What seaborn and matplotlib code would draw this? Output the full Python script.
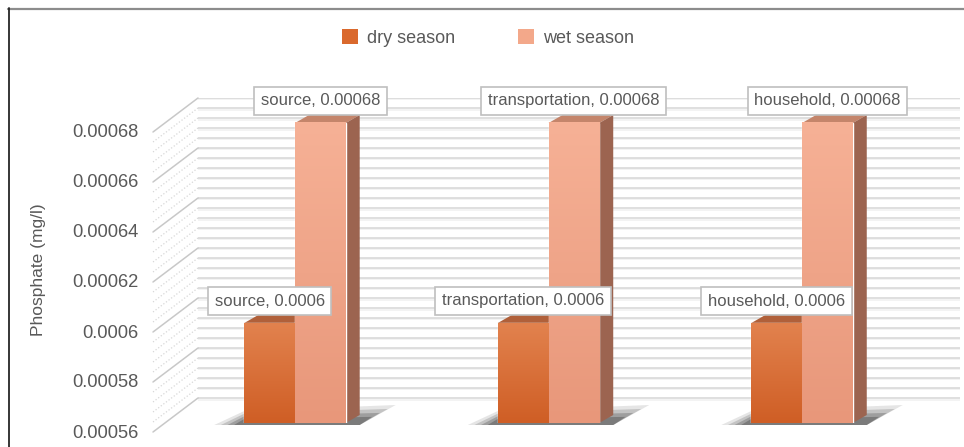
import numpy as np
import pandas as pd
import matplotlib
matplotlib.use("Agg")
import matplotlib.pyplot as plt
import seaborn as sns
from matplotlib.patches import Polygon, Patch
from matplotlib.lines import Line2D
from matplotlib.transforms import ScaledTranslation
from matplotlib.colors import LinearSegmentedColormap

# Data
sites = ["source", "transportation", "household"]
seasons = ["dry season", "wet season"]
dry_values = [0.0006, 0.0006, 0.0006]
wet_values = [0.00068, 0.00068, 0.00068]
y_ticks = [0.00056, 0.00058, 0.0006, 0.00062, 0.00064, 0.00066, 0.00068]
y_tick_labels = ["0.00056", "0.00058", "0.0006", "0.00062", "0.00064", "0.00066", "0.00068"]

df = pd.DataFrame({
    "site": sites * 2,
    "season": [seasons[0]] * len(sites) + [seasons[1]] * len(sites),
    "value": dry_values + wet_values,
})

# Style
sns.set_theme(style="white")
plt.rcParams["font.family"] = ["Liberation Sans", "DejaVu Sans"]
TEXT = "#595959"
DRY = "#da692d"
WET = "#f3a88a"
# gradients (bottom -> top) and 3D face colours
grad = {
    DRY: ("#cf5e25", "#e2824e"),
    WET: ("#e8977a", "#f6b196"),
}
top_face = {DRY: "#b0603a", WET: "#c4856b"}
side_face = {DRY: "#8f4a2a", WET: "#9c6450"}

W, H, DPI = 964, 447, 100
fig = plt.figure(figsize=(W / DPI, H / DPI), dpi=DPI)
ax_w, ax_h = 762, 325
ax = fig.add_axes([198 / W, (H - 423) / H, ax_w / W, ax_h / H])
ax.set_facecolor("none")
for s in ax.spines.values():
    s.set_visible(False)

xlim = (-0.3826, 2.623)
ylim = (0.00056, 0.00069)
px_x = (xlim[1] - xlim[0]) / ax_w
px_y = (ylim[1] - ylim[0]) / ax_h

sns.barplot(data=df, x="site", y="value", hue="season", palette=[DRY, WET],
            width=0.4, errorbar=None, saturation=1, legend=False, ax=ax, zorder=3)

# back wall gridlines (shifted back by the 3D depth)
wall_off = 25 * px_y
grid_vals = np.round(np.arange(0.00056, 0.000681, 0.000004), 7)
ax.hlines(grid_vals + wall_off - 1.5 * px_y, xlim[0], xlim[1], color="#f1f1f1", lw=1.2, zorder=0)
ax.hlines(grid_vals + wall_off, xlim[0], xlim[1], color="#d9d9d9", lw=1.2, zorder=0.5)

# left side wall (perspective diagonals)
for v in grid_vals:
    major = any(abs(v - t) < 1e-9 for t in y_ticks)
    ax.plot([xlim[0] - 45 * px_x, xlim[0]], [v - 9 * px_y, v + wall_off],
            color="#c8c8c8" if major else "#d8d8d8",
            lw=1.1 if major else 0.9,
            ls="-" if major else (0, (1, 1.6)),
            clip_on=False, zorder=0.5)

dx, dy = 14 * px_x, 8 * px_y
y0 = ylim[0]
for cont, color in zip(ax.containers, [DRY, WET]):
    for bar, site in zip(cont.patches, sites):
        x0 = bar.get_x()
        x1 = x0 + bar.get_width()
        top = bar.get_y() + bar.get_height()
        # vertical gradient on the front face
        cmap = LinearSegmentedColormap.from_list("g", list(grad[color]))
        ax.imshow(np.linspace(0, 1, 128).reshape(-1, 1), cmap=cmap, origin="lower",
                  extent=[x0, x1, y0, top], aspect="auto", zorder=3.2)
        # top face
        ax.add_patch(Polygon([(x0, top), (x0 + dx, top + dy), (x1 + dx, top + dy), (x1, top)],
                             closed=True, fc=top_face[color], ec="none", zorder=2.9))
        if color == WET:
            ax.add_patch(Polygon([(x1, y0), (x1 + dx, y0 + dy), (x1 + dx, top + dy), (x1, top)],
                                 closed=True, fc=side_face[color], ec="none", zorder=2.9))
            # soft shadow on the floor
            xl = x0 - bar.get_width()
            for k, a in enumerate([0.12, 0.18, 0.24, 0.3]):
                s = 1 - 0.22 * k
                ax.add_patch(Polygon([(xl - 30 * px_x * s, y0 - 2 * px_y),
                                      (xl, y0 + 12 * px_y * s),
                                      (x1 + dx + 36 * px_x * s, y0 + (dy + 10 * px_y) * s),
                                      (x1 + dx, y0 - 2 * px_y)],
                                     closed=True, fc="#2a2a2a", ec="none", alpha=a,
                                     clip_on=False, zorder=2.5))
        # data label
        ax.text((x0 + x1) / 2, top + 22 * px_y, f"{site}, {bar.get_height():g}",
                ha="center", va="center", fontsize=12, color=TEXT, zorder=6,
                bbox=dict(boxstyle="square,pad=0.4", fc="white", ec="#bfbfbf", lw=1.2))

ax.set_xlim(*xlim)
ax.set_ylim(*ylim)
ax.set_xticks([])
ax.set_xlabel("")
ax.set_yticks(y_ticks)
ax.set_yticklabels(y_tick_labels)
ax.tick_params(axis="y", length=0, pad=43, labelsize=13.2, labelcolor=TEXT)
shift = ScaledTranslation(0, -8 / DPI, fig.dpi_scale_trans)
for lab in ax.get_yticklabels():
    lab.set_transform(lab.get_transform() + shift)

ax.set_ylabel("Phosphate (mg/l)", fontsize=12.5, color=TEXT)
ax.yaxis.set_label_coords((46 - 198) / ax_w, (423 - 270) / ax_h)

handles = [Patch(fc=DRY, ec="none"), Patch(fc=WET, ec="none")]
fig.legend(handles=handles, labels=seasons, loc="center", bbox_to_anchor=(488 / W, 1 - 38 / H),
           ncol=2, frameon=False, fontsize=13, labelcolor=TEXT, handlelength=0.85,
           handleheight=0.85, handletextpad=0.5, columnspacing=3.5)

# outer frame (top and left edges visible)
fig.add_artist(Line2D([8 / W, 1], [1 - 8.5 / H, 1 - 8.5 / H], color="#8c8c8c", lw=1.6))
fig.add_artist(Line2D([8.5 / W, 8.5 / W], [0, 1 - 8 / H], color="#262626", lw=1.3))

fig.savefig("out.png", dpi=DPI, facecolor="white")
